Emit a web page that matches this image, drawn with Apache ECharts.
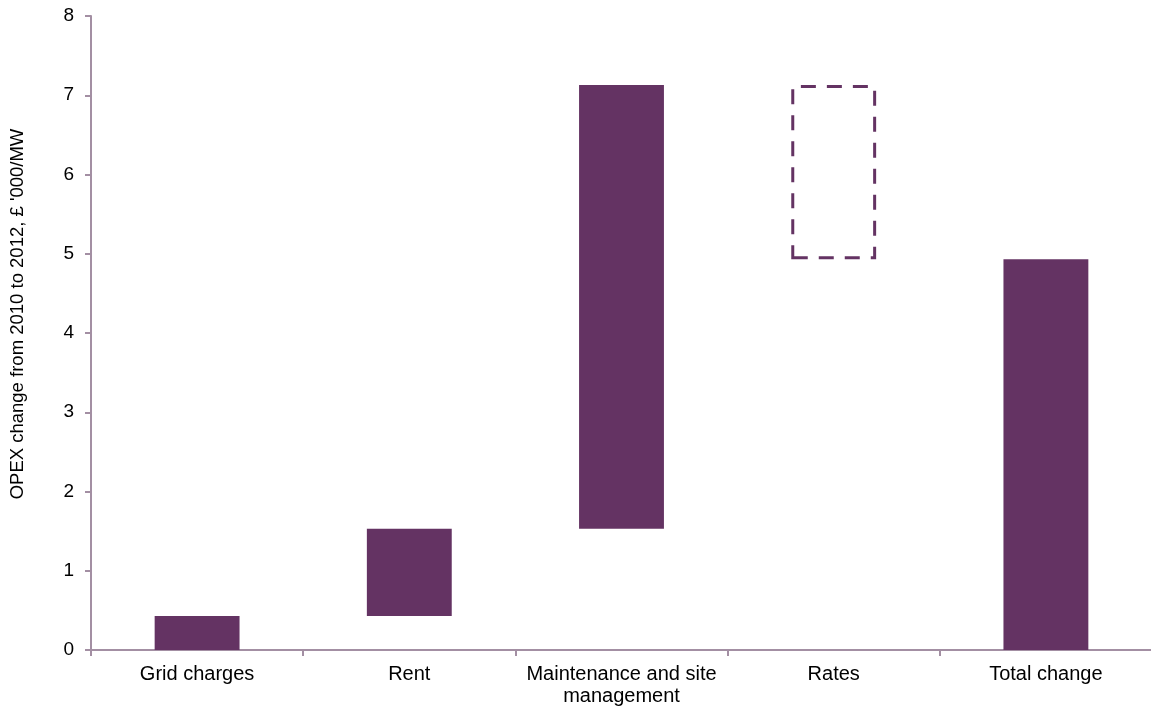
<!DOCTYPE html>
<html>
<head>
<meta charset="utf-8">
<script src="https://cdn.jsdelivr.net/npm/echarts@6/dist/echarts.min.js"></script>
<style>
  html, body { margin: 0; padding: 0; background: #ffffff; }
  #chart { width: 1151px; height: 706px; }
</style>
</head>
<body>
<div id="chart"></div>
<script>
// OPEX change waterfall, £'000/MW
const categories = ['Grid charges', 'Rent', 'Maintenance and site\nmanagement', 'Rates', 'Total change'];
const stepChanges = [0.43, 1.10, 5.60, -2.20];   // per-component change
const yTicks = { min: 0, max: 8, interval: 1 };

const barColor = '#643363';
const axisColor = '#A38FA3';

// running totals give the floating base of each step
const baseValues = [];
const heightValues = [];
let running = 0;
stepChanges.forEach(function (v) {
  const start = running;
  running += v;
  baseValues.push(Math.min(start, running));
  heightValues.push(Math.abs(v));
});
const totalChange = running;
baseValues.push(0);
heightValues.push(totalChange);

// decreases are drawn as dashed outlines
const visibleData = heightValues.map(function (h, i) {
  if (i < stepChanges.length && stepChanges[i] < 0) {
    return {
      value: h,
      itemStyle: {
        color: 'rgba(0,0,0,0)',
        borderColor: barColor,
        borderWidth: 3,
        borderType: [15, 11]
      }
    };
  }
  return h;
});

const chart = echarts.init(document.getElementById('chart'), null, { renderer: 'canvas' });
chart.setOption({
  animation: false,
  textStyle: { fontFamily: 'Liberation Sans, Arial, sans-serif' },
  grid: { left: 91, right: -1, top: 16, bottom: 56, containLabel: false, outerBoundsMode: 'none' },
  xAxis: {
    type: 'category',
    data: categories,
    axisLine: { lineStyle: { color: axisColor, width: 2 } },
    axisTick: { show: true, alignWithLabel: false, length: 6, lineStyle: { color: axisColor, width: 2 } },
    axisLabel: { color: '#000', fontSize: 20, lineHeight: 22, margin: 13, interval: 0 },
    splitLine: { show: false }
  },
  yAxis: {
    type: 'value',
    min: yTicks.min,
    max: yTicks.max,
    interval: yTicks.interval,
    name: "OPEX change from 2010 to 2012, £ '000/MW",
    nameLocation: 'middle',
    nameGap: 64,
    nameTextStyle: { color: '#000', fontSize: 18.5, padding: [0, 0, 0, 38] },
    axisLine: { show: true, lineStyle: { color: axisColor, width: 2 } },
    axisTick: { show: true, length: 6, lineStyle: { color: axisColor, width: 2 } },
    axisLabel: { color: '#000', fontSize: 19, margin: 17 },
    splitLine: { show: false }
  },
  series: [
    {
      name: 'base',
      type: 'bar',
      stack: 'waterfall',
      barWidth: '40%',
      itemStyle: { color: 'rgba(0,0,0,0)' },
      emphasis: { disabled: true },
      data: baseValues
    },
    {
      name: 'change',
      type: 'bar',
      stack: 'waterfall',
      barWidth: '40%',
      itemStyle: { color: barColor },
      data: visibleData
    }
  ]
});
</script>
</body>
</html>
